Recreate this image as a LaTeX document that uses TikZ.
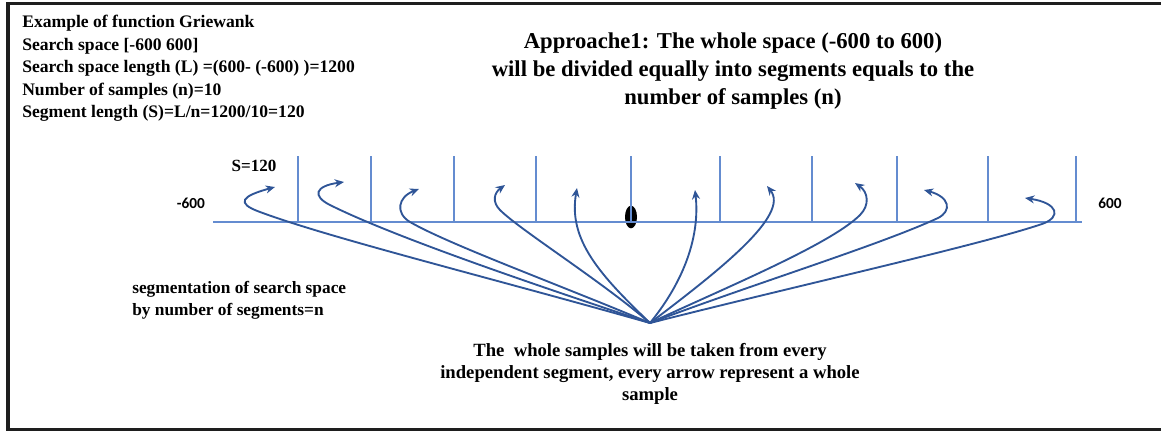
\documentclass[tikz,border=0pt]{standalone}
\usepackage{fontspec}
\setmainfont{Liberation Serif}
\newfontfamily\calibri{Carlito}
\usetikzlibrary{arrows.meta,shapes.geometric}
\definecolor{axisblue}{RGB}{100,140,208}
\definecolor{arrowblue}{RGB}{47,85,151}
\definecolor{framegray}{RGB}{30,30,30}
\tikzset{
  frameline/.style={draw=framegray,line width=2.8pt},
  axisline/.style={draw=axisblue,line width=1.1pt},
  arr/.style={draw=arrowblue,line width=1.4pt,-{Stealth[length=7pt,width=6pt]}},
  hdr/.style={font=\fontsize{13.2}{15}\selectfont\bfseries,inner sep=0pt,anchor=base west},
  ttl/.style={font=\fontsize{17}{21}\selectfont\bfseries,align=center,inner sep=0pt},
  body/.style={font=\fontsize{14}{16.5}\selectfont\bfseries,align=center,inner sep=0pt},
  sans/.style={font=\calibri\fontsize{11.5}{14}\selectfont\bfseries,inner sep=0pt},
  dot/.style={ellipse,fill=black,minimum width=9pt,minimum height=17pt,inner sep=0pt}
}
\begin{document}
\begin{tikzpicture}[x=0.75pt,y=-0.75pt]
\useasboundingbox (0,0) rectangle (1161,431);
\begin{scope}
\clip (0,0) rectangle (1161,431);
\draw[frameline] (8,3.5) rectangle (1200,429.5);
\end{scope}

% header text
\node[hdr] (h1t) at (22,28) {Example of function Griewank};
\node[hdr] (h2t) at (22,50.5) {Search space [-600 600]};
\node[hdr] (h3t) at (22,73) {Search space length (L) =(600- (-600) )=1200};
\node[hdr] (h4t) at (22,95.5) {Number of samples (n)=10};
\node[hdr] (h5t) at (22,118) {Segment length (S)=L/n=1200/10=120};

% title
\node[ttl] (title) at (733,71) {Approache1: The whole space (-600 to 600)\\will be divided equally into segments equals to the\\number of samples (n)};

% axis
\coordinate (axL) at (213,222);
\coordinate (axR) at (1082,222);
\node[dot] (blob) at (631,217) {};
\draw[axisline] (axL) -- (axR);
\foreach \i/\x in {1/298,2/371,3/454,4/536,5/631,6/720,7/812,8/897,9/988,10/1076}{
  \coordinate (tt\i) at (\x,156);
  \coordinate (tb\i) at (\x,222);
  \draw[axisline] (tb\i) -- (tt\i);
}

\node[hdr,anchor=center,font=\fontsize{12.8}{15}\selectfont\bfseries] (slabel) at (254,166) {S=120};
\node[sans] (lminus) at (191,203) {-600};
\node[sans] (lplus) at (1110,203) {600};

% arrows
\coordinate (src) at (650,323);
\coordinate (a1) at (275,187);
\coordinate (a2) at (344,182);
\coordinate (a3) at (419,189);
\coordinate (a4) at (505,185);
\coordinate (a5) at (577,188);
\coordinate (a6) at (695,190);
\coordinate (a7) at (767,186);
\coordinate (a8) at (855,183);
\coordinate (a9) at (924,190);
\coordinate (a10) at (1025,198);

\draw[arr] (src) .. controls (480,275) and (330,238) .. (260,212) .. controls (235,203) and (242,196) .. (a1);
\draw[arr] (src) .. controls (520,280) and (390,235) .. (330,205) .. controls (312,196) and (315,186) .. (a2);
\draw[arr] (src) .. controls (560,285) and (450,245) .. (410,222) .. controls (395,213) and (398,197) .. (a3);
\draw[arr] (src) .. controls (600,280) and (520,230) .. (500,210) .. controls (492,202) and (494,193) .. (a4);
\draw[arr] (src) .. controls (600,275) and (568,240) .. (a5);
\draw[arr] (src) .. controls (685,280) and (700,235) .. (a6);
\draw[arr] (src) .. controls (720,270) and (790,215) .. (a7);
\draw[arr] (src) .. controls (720,290) and (830,245) .. (860,215) .. controls (870,205) and (868,192) .. (a8);
\draw[arr] (src) .. controls (750,285) and (880,245) .. (938,218) .. controls (952,211) and (950,197) .. (a9);
\draw[arr] (src) .. controls (800,285) and (980,245) .. (1042,224) .. controls (1062,217) and (1058,203) .. (a10);

% lower texts
\node[body,align=left,anchor=west,font=\fontsize{13}{16.5}\selectfont\bfseries] (segtxt) at (132,300) {segmentation of search space\\by number of segments=n};
\node[body] (bottxt) at (650,374) {The~~whole samples will be taken from every\\independent segment, every arrow represent a whole\\sample};
\end{tikzpicture}
\end{document}
